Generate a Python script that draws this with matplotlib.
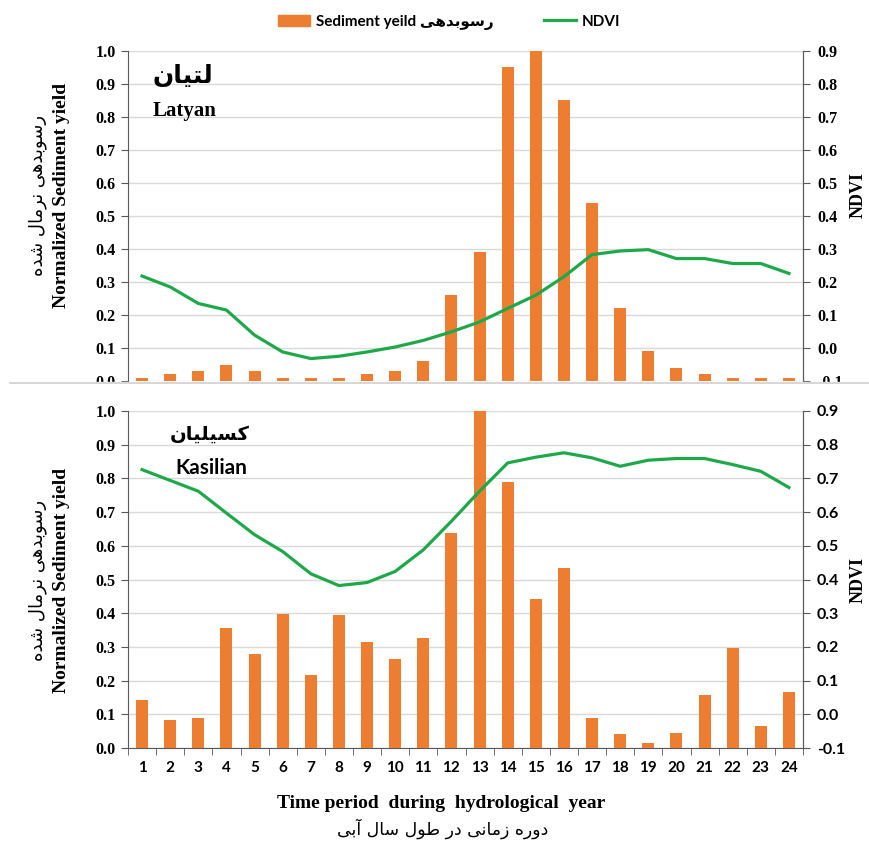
import numpy as np
import matplotlib.pyplot as plt
from matplotlib.lines import Line2D
from matplotlib.patches import Patch, Rectangle

plt.rcParams["axes.unicode_minus"] = False

# time periods of the hydrological year
periods = np.arange(1, 25)

# Latyan (top panel)
latyan_sed = [0.01, 0.02, 0.03, 0.05, 0.03, 0.01, 0.01, 0.01, 0.02, 0.03, 0.06, 0.26,
              0.39, 0.95, 1.00, 0.85, 0.54, 0.22, 0.09, 0.04, 0.02, 0.01, 0.01, 0.01]
latyan_ndvi = [0.218, 0.185, 0.135, 0.115, 0.039, -0.012, -0.032, -0.025, -0.012, 0.003, 0.023, 0.049,
               0.079, 0.120, 0.160, 0.216, 0.283, 0.294, 0.298, 0.271, 0.271, 0.256, 0.256, 0.226]

# Kasilian (bottom panel)
kasilian_sed = [0.142, 0.084, 0.090, 0.355, 0.280, 0.398, 0.216, 0.395, 0.316, 0.265, 0.326, 0.637,
                1.000, 0.789, 0.442, 0.533, 0.090, 0.042, 0.016, 0.045, 0.158, 0.298, 0.064, 0.166]
kasilian_ndvi = [0.726, 0.694, 0.662, 0.597, 0.533, 0.483, 0.417, 0.382, 0.391, 0.424, 0.488, 0.573,
                 0.662, 0.746, 0.763, 0.776, 0.761, 0.736, 0.754, 0.759, 0.759, 0.741, 0.721, 0.673]

# Persian strings, written with presentation forms in visual (left to right) order
fa_sed = "\uFEF0\uFEEB\uFEAA\uFE91\uFEEE\uFEB3\uFEAD"                      # رسوبدهی
fa_norm = "\uFEDD\uFE8E\uFEE3\uFEAE\uFEE7"                                # نرمال
fa_shode = "\uFEE9\uFEAA\uFEB7"                                           # شده
fa_ylabel = fa_shode + " " + fa_norm + " " + fa_sed
fa_latyan = "\uFEE5\uFE8E\uFEF4\uFE98\uFEDF"                              # لتیان
fa_kasilian = "\uFEE5\uFE8E\uFEF4\uFEE0\uFEF4\uFEB4\uFEDB"                # کسیلیان
fa_xlabel = ("\uFEF0\uFE91\uFE81" + " " + "\uFEDD\uFE8E\uFEB3" + " " + "\uFEDD\uFEEE\uFEC3" + " "
             + "\uFEAD\uFEA9" + " " + "\uFEF0\uFEE7\uFE8E\uFEE3\uFEAF" + " " + "\uFEE9\uFEAD\uFEED\uFEA9")

orange = "#ED7D31"
green = "#1FA84A"
serif = "Liberation Serif"
sans = ["Lato", "DejaVu Sans"]

W, H = 869, 843
fig = plt.figure(figsize=(W / 100, H / 100), dpi=100)


def px(x0, y0, x1, y1):
    # pixel box -> figure fraction rect
    return [x0 / W, 1 - y1 / H, (x1 - x0) / W, (y1 - y0) / H]


def draw_panel(ax, sed, ndvi, right_family):
    ax.bar(periods, sed, width=0.43, color=orange, zorder=3)
    ax.set_xlim(0.5, 24.5)
    ax.set_ylim(0, 1)
    ax.set_yticks(np.arange(0, 1.01, 0.1))
    ax.yaxis.set_major_formatter("{x:.1f}")
    ax.grid(axis="y", color="#d9d9d9", lw=1)
    ax.set_axisbelow(True)
    ax.spines["top"].set_visible(False)
    for s in ["left", "right", "bottom"]:
        ax.spines[s].set_color("#595959")
    ax.tick_params(axis="y", direction="out", length=5, color="#595959", pad=4)
    for t in ax.get_yticklabels():
        t.set_fontfamily(serif)
        t.set_fontweight("bold")
        t.set_fontsize(11.5)

    ax2 = ax.twinx()
    ax2.plot(periods, ndvi, color=green, lw=2.3)
    ax2.set_ylim(-0.1, 0.9)
    ax2.set_yticks(np.arange(-0.1, 0.91, 0.1))
    ax2.yaxis.set_major_formatter("{x:.1f}")
    for s in ["top", "left", "bottom"]:
        ax2.spines[s].set_visible(False)
    ax2.spines["right"].set_color("#595959")
    ax2.tick_params(axis="y", direction="out", length=5, color="#595959", pad=5)
    for t in ax2.get_yticklabels():
        t.set_fontfamily(right_family)
        t.set_fontweight("bold")
        t.set_fontsize(11.5)
    return ax2


# top panel (Latyan), cut off at its base like the source figure
ax_top = fig.add_axes(px(128, 51, 803, 381))
draw_panel(ax_top, latyan_sed, latyan_ndvi, serif)
ax_top.spines["bottom"].set_visible(False)
ax_top.set_xticks([])

# bottom panel (Kasilian)
ax_bot = fig.add_axes(px(128, 411, 803, 748))
draw_panel(ax_bot, kasilian_sed, kasilian_ndvi, sans)
ax_bot.set_xticks(periods)
ax_bot.set_xticklabels([str(p) for p in periods], family=sans, weight="bold", fontsize=11)
ax_bot.set_xticks(np.arange(0.5, 24.6, 1), minor=True)
ax_bot.tick_params(axis="x", which="major", length=0, pad=9)
ax_bot.tick_params(axis="x", which="minor", direction="out", length=5, color="#595959")

# white band hiding the lower part of the top panel + thin separator line
fig.add_artist(Rectangle((0, 1 - 397 / H), 1, 15 / H, transform=fig.transFigure,
                         color="white", zorder=10))
fig.add_artist(Line2D([0.012, 1], [1 - 382.5 / H, 1 - 382.5 / H], transform=fig.transFigure,
                      color="#cfcfcf", lw=1.2, zorder=11))

# station names
fig.text(183 / W, 1 - 76 / H, fa_latyan, family="DejaVu Sans", weight="bold", fontsize=18,
         ha="center", va="center")
fig.text(185 / W, 1 - 111 / H, "Latyan", family=serif, weight="bold", fontsize=15,
         ha="center", va="center")
fig.text(210 / W, 1 - 434 / H, fa_kasilian, family="DejaVu Sans", weight="bold", fontsize=14,
         ha="center", va="center")
fig.text(211 / W, 1 - 468 / H, "Kasilian", family=sans, weight="bold", fontsize=15,
         ha="center", va="center")

# left / right y labels
for yc in (195, 580):
    fig.text(38 / W, 1 - yc / H, fa_ylabel, family="DejaVu Sans", fontsize=13,
             rotation=90, ha="center", va="center")
    fig.text(61 / W, 1 - yc / H, "Normalized Sediment yield", family=serif, weight="bold",
             fontsize=14, rotation=90, ha="center", va="center")
    fig.text(858 / W, 1 - yc / H, "NDVI", family=serif, weight="bold", fontsize=13,
             rotation=90, ha="center", va="center")

# x label
fig.text(441 / W, 1 - 803 / H, "Time period  during  hydrological  year", family=serif,
         weight="bold", fontsize=14, ha="center", va="center")
fig.text(443 / W, 1 - 829 / H, fa_xlabel, family="DejaVu Sans", fontsize=12.5,
         ha="center", va="center")

# legend
handles = [Patch(color=orange), Line2D([], [], color=green, lw=2.3)]
labels = ["Sediment yeild " + fa_sed, "NDVI"]
fig.legend(handles, labels, loc="center", bbox_to_anchor=(449 / W, 1 - 22 / H), ncol=2,
           frameon=False, prop={"family": sans, "weight": "bold", "size": 11},
           handlelength=2.1, handleheight=0.7, handletextpad=0.4, columnspacing=3.3)

fig.savefig("out.png", dpi=100)
